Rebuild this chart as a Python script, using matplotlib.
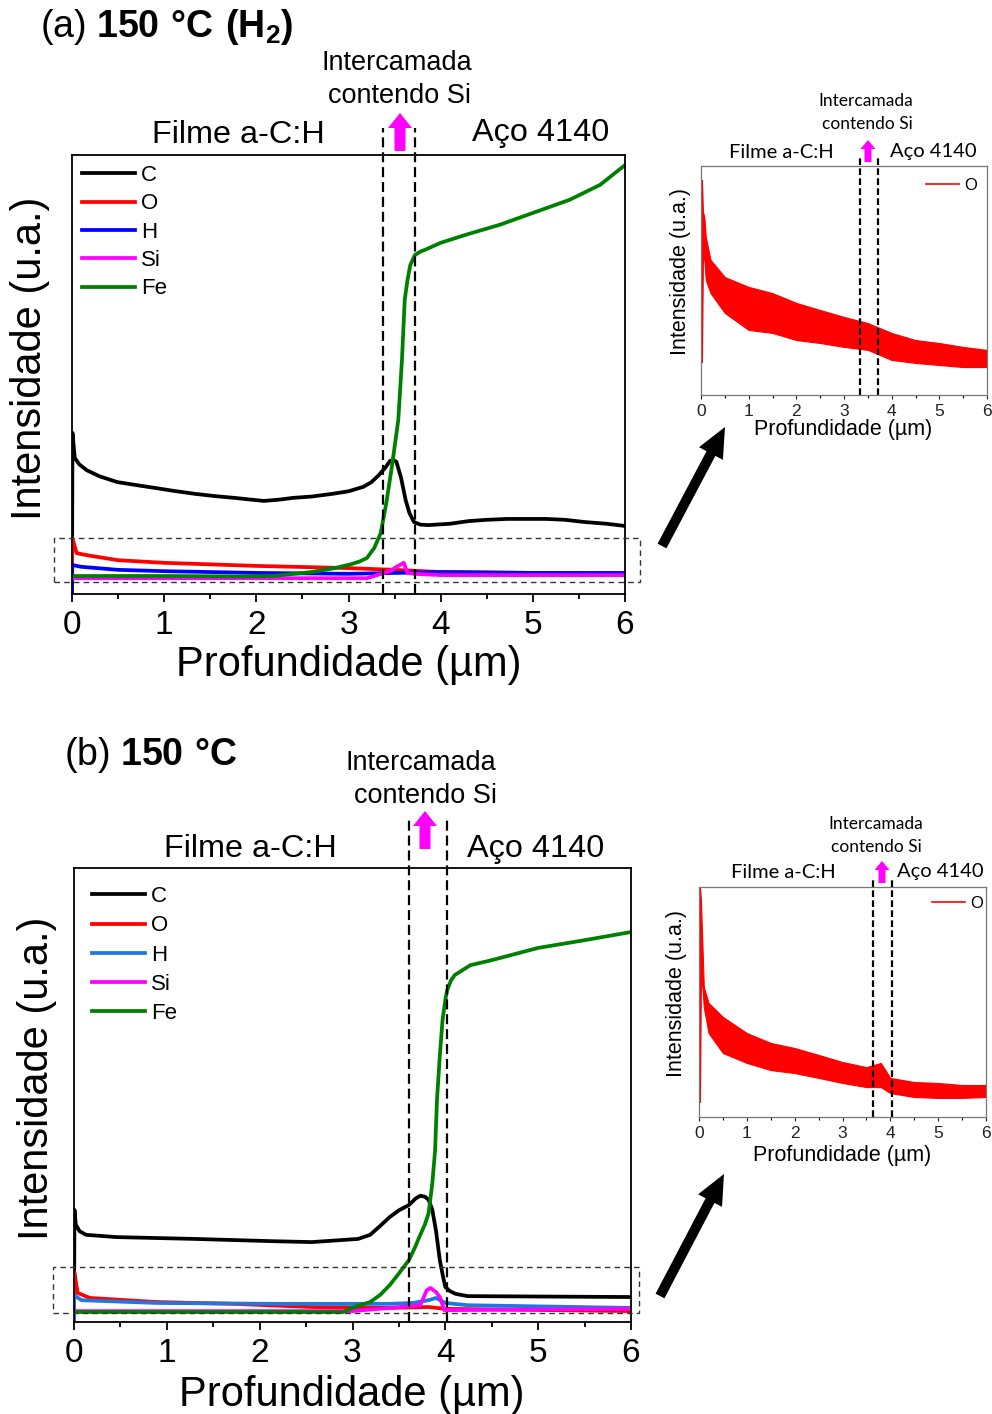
import matplotlib
matplotlib.use('Agg')
import matplotlib.pyplot as plt
from matplotlib.patches import FancyArrow, Rectangle
from matplotlib.ticker import MultipleLocator

plt.rcParams['font.family'] = ['Liberation Sans', 'DejaVu Sans']
plt.rcParams['mathtext.fontset'] = 'custom'
plt.rcParams['mathtext.rm'] = 'Liberation Sans'
plt.rcParams['mathtext.bf'] = 'Liberation Sans:bold'

# ---------------- data ----------------
# Panel (a): 150 °C (H2)
a_C_x = [0, 0.005, 0.03, 0.08, 0.16, 0.3, 0.49, 0.7, 0.92, 1.1, 1.34, 1.55, 1.76, 2.08, 2.25, 2.4, 2.6, 2.82, 3.0, 3.16, 3.25, 3.33, 3.4, 3.45, 3.49, 3.52, 3.57, 3.62, 3.66, 3.71, 3.78, 3.87, 4.1, 4.3, 4.5, 4.72, 5.14, 5.35, 5.56, 5.8, 6.0]
a_C_y = [0, 36.7, 31.0, 29.5, 28.2, 26.8, 25.5, 24.8, 24.1, 23.5, 22.8, 22.3, 21.9, 21.2, 21.5, 21.9, 22.2, 22.8, 23.4, 24.4, 25.5, 27.1, 28.8, 30.3, 30.5, 30.1, 26.5, 21.4, 18.5, 16.4, 15.8, 15.7, 16.0, 16.6, 16.9, 17.1, 17.1, 16.9, 16.4, 16.0, 15.5]
a_O_x = [0, 0.003, 0.05, 0.2, 0.5, 1, 2, 3, 3.5, 4, 5, 6]
a_O_y = [0, 12.8, 9.3, 8.7, 7.7, 7.1, 6.4, 5.9, 5.5, 5.0, 4.8, 4.6]
a_H_x = [0, 0.003, 0.1, 0.5, 1, 2, 3, 3.5, 4, 5, 6]
a_H_y = [0, 6.6, 6.2, 5.5, 5.2, 4.8, 4.6, 4.8, 5.0, 4.8, 4.8]
a_Si_x = [0, 3.2, 3.28, 3.45, 3.53, 3.6, 3.64, 3.71, 4.0, 6.0]
a_Si_y = [3.6, 3.6, 4.1, 5.2, 6.3, 7.1, 4.8, 4.6, 4.3, 4.3]
a_Fe_x = [0, 1.0, 1.8, 2.18, 2.6, 2.85, 3.03, 3.12, 3.2, 3.28, 3.35, 3.41, 3.47, 3.54, 3.58, 3.61, 3.64, 3.67, 3.72, 3.78, 3.83, 4.0, 4.3, 4.64, 5.0, 5.4, 5.73, 6.0]
a_Fe_y = [4.1, 4.1, 4.0, 4.1, 5.0, 5.9, 6.8, 7.4, 8.2, 10.5, 13.9, 20.7, 28.9, 39.6, 53.3, 67.0, 71.5, 74.9, 77.2, 78.0, 78.4, 80.0, 82.0, 84.1, 86.8, 89.8, 93.2, 97.7]
a_interfaces = [3.37, 3.72]

# Panel (b): 150 °C
b_C_x = [0, 0.005, 0.02, 0.06, 0.13, 0.46, 1.3, 2.14, 2.56, 3.06, 3.19, 3.3, 3.4, 3.5, 3.61, 3.68, 3.73, 3.78, 3.82, 3.86, 3.9, 3.94, 3.97, 4.0, 4.05, 4.11, 4.24, 6.0]
b_C_y = [0, 24.7, 21.4, 20.0, 19.2, 18.7, 18.3, 17.8, 17.6, 18.3, 19.2, 21.2, 23.1, 24.6, 25.8, 27.2, 27.8, 27.6, 26.9, 24.7, 20.0, 13.7, 10.5, 7.7, 6.8, 6.2, 5.7, 5.5]
b_O_x = [0, 0.003, 0.04, 0.17, 0.88, 1.72, 2.56, 3.4, 3.82, 4.0, 6.0]
b_O_y = [0, 11.0, 6.4, 5.3, 4.4, 4.0, 3.3, 3.1, 3.3, 2.9, 2.4]
b_H_x = [0, 0.003, 0.08, 0.88, 2.14, 3.4, 3.65, 3.82, 3.9, 4.0, 4.24, 6.0]
b_H_y = [0, 5.9, 4.8, 4.2, 4.0, 4.0, 4.2, 4.8, 5.3, 4.2, 3.7, 3.1]
b_Si_x = [0, 3.0, 3.4, 3.73, 3.8, 3.84, 3.9, 3.94, 3.99, 6.0]
b_Si_y = [2.4, 2.4, 3.1, 3.7, 7.0, 7.5, 6.6, 5.5, 2.6, 2.9]
b_Fe_x = [0, 2.9, 3.02, 3.19, 3.3, 3.4, 3.5, 3.61, 3.67, 3.73, 3.78, 3.82, 3.86, 3.89, 3.91, 3.94, 3.97, 4.0, 4.02, 4.06, 4.1, 4.27, 4.5, 5.0, 5.5, 6.0]
b_Fe_y = [2.2, 2.2, 3.3, 4.4, 6.0, 8.1, 10.7, 13.7, 16.3, 19.2, 21.5, 24.0, 30.6, 37.9, 48.9, 58.5, 66.5, 71.0, 73.1, 75.2, 76.4, 78.6, 79.7, 82.4, 84.1, 85.9]
b_interfaces = [3.61, 4.02]

# Insets: O signal, upper / lower envelope of the noisy trace
ins_a_x = [0.02, 0.04, 0.07, 0.1, 0.2, 0.5, 1.0, 1.5, 2.0, 2.5, 3.0, 3.5, 4.0, 4.5, 5.0, 5.5, 6.0]
ins_a_hi = [93.9, 80, 77.7, 69.0, 59.0, 51.5, 47.2, 44.5, 40.2, 37.1, 34.1, 31.4, 27.1, 24.0, 22.7, 21.0, 19.7]
ins_a_lo = [14.4, 60, 59.0, 50.2, 44.5, 35.8, 28.4, 27.1, 24.0, 22.7, 21.0, 19.7, 15.3, 14.0, 13.1, 12.2, 12.2]
ins_a_interfaces = [3.33, 3.72]

ins_b_x = [0.02, 0.04, 0.07, 0.1, 0.2, 0.5, 1.0, 1.5, 2.0, 2.5, 3.0, 3.5, 3.8, 4.0, 4.5, 5.0, 5.5, 6.0]
ins_b_hi = [100, 94.3, 75.7, 56.5, 49.6, 43.5, 36.5, 32.2, 30.0, 27.0, 23.9, 21.7, 23.5, 17.0, 15.2, 14.8, 13.9, 13.9]
ins_b_lo = [6.5, 60, 56.5, 47.8, 36.5, 27.8, 23.5, 20.4, 19.1, 17.0, 14.8, 13.0, 13.0, 10.4, 8.7, 8.3, 8.3, 8.7]
ins_b_interfaces = [3.63, 4.03]

elements = ['C', 'O', 'H', 'Si', 'Fe']
colors_a = ['#000000', '#ff0000', '#0000ff', '#ff00ff', '#008000']
colors_b = ['#000000', '#ff0000', '#1f78e0', '#ff00ff', '#008000']
xticks = [0, 1, 2, 3, 4, 5, 6]

# ---------------- figure ----------------
W, H = 992, 1414
fig = plt.figure(figsize=(W / 100, H / 100), dpi=100)


def add_ax(l, t, r, b):
    return fig.add_axes([l / W, 1 - b / H, (r - l) / W, (b - t) / H])


def ftext(x, y, s, **kw):
    kw.setdefault('ha', 'center')
    kw.setdefault('va', 'center')
    fig.text(x / W, 1 - y / H, s, **kw)


def arrow_px(x0, y0, x1, y1, w, hw, hl, color):
    a = FancyArrow(x0 / 100, (H - y0) / 100, (x1 - x0) / 100, -(y1 - y0) / 100,
                   width=w / 100, head_width=hw / 100, head_length=hl / 100,
                   length_includes_head=True, transform=fig.dpi_scale_trans,
                   color=color, lw=0)
    fig.add_artist(a)


def rect_px(x0, y0, x1, y1):
    r = Rectangle((x0 / 100, (H - y1) / 100), (x1 - x0) / 100, (y1 - y0) / 100,
                  transform=fig.dpi_scale_trans, fill=False, ls=(0, (4, 3)),
                  lw=1.0, ec='#333333')
    fig.add_artist(r)


def main_panel(ax, series, colors, interfaces, ymax_line, leg_anchor, lspace, xl, yl):
    for name, (xs, ys), c in zip(elements, series, colors):
        ax.plot(xs, ys, color=c, lw=2.7, label=name, solid_joinstyle='round')
    ax.set_xlim(0, 6)
    ax.set_ylim(0, 100)
    ax.set_yticks([])
    ax.set_xticks(xticks)
    ax.xaxis.set_minor_locator(MultipleLocator(0.5))
    ax.tick_params(axis='x', which='major', direction='out', length=6, width=1.3,
                   labelsize=24, pad=5.5)
    ax.tick_params(axis='x', which='minor', direction='out', length=3.5, width=1.3)
    for sp in ax.spines.values():
        sp.set_linewidth(1.3)
    for xi in interfaces:
        ax.axvline(xi, ymin=0, ymax=ymax_line, color='black', lw=1.6,
                   ls=(0, (4.5, 2.2)), clip_on=False)
    ax.legend(loc='upper left', bbox_to_anchor=leg_anchor, frameon=False, fontsize=16,
              handlelength=2.4, handletextpad=0.25, labelspacing=lspace,
              borderpad=0, borderaxespad=0)
    ax.set_xlabel('Profundidade (µm)', fontsize=30)
    ax.set_ylabel('Intensidade (u.a.)', fontsize=30)
    ax.xaxis.set_label_coords(*xl)
    ax.yaxis.set_label_coords(*yl)
    ax.xaxis.label.set_va('center')
    ax.yaxis.label.set_va('center')


def inset_panel(ax, xs, lo, hi, interfaces, leg_anchor, xl, yl):
    ax.fill_between(xs, lo, hi, color='#ff0000', lw=0.8, edgecolor='#ff0000')
    ax.plot([], [], color='#ff0000', lw=1.2, label='O')
    ax.set_xlim(0, 6)
    ax.set_ylim(0, 100)
    ax.set_yticks([])
    ax.set_xticks(xticks)
    ax.xaxis.set_minor_locator(MultipleLocator(0.5))
    ax.tick_params(axis='x', which='major', direction='out', length=3, width=0.8,
                   labelsize=12.5, pad=3.5, colors='#222222')
    ax.tick_params(axis='x', which='minor', direction='out', length=2, width=0.8)
    for sp in ax.spines.values():
        sp.set_linewidth(0.9)
        sp.set_color('#777777')
    for xi in interfaces:
        ax.axvline(xi, ymin=0, ymax=1.035, color='black', lw=1.6,
                   ls=(0, (3, 1.5)), clip_on=False)
    ax.legend(loc='upper right', bbox_to_anchor=leg_anchor, frameon=False, fontsize=12,
              handlelength=2.0, handletextpad=0.3, borderpad=0, borderaxespad=0)
    ax.set_xlabel('Profundidade (µm)', fontsize=15.5)
    ax.set_ylabel('Intensidade (u.a.)', fontsize=15.5)
    ax.xaxis.set_label_coords(*xl)
    ax.yaxis.set_label_coords(*yl)
    ax.xaxis.label.set_va('center')
    ax.yaxis.label.set_va('center')


# ---- panel (a) ----
axa = add_ax(72, 155, 625, 594)
main_panel(axa,
           [(a_C_x, a_C_y), (a_O_x, a_O_y), (a_H_x, a_H_y), (a_Si_x, a_Si_y), (a_Fe_x, a_Fe_y)],
           colors_a, a_interfaces, 1.061, (0.018, 0.977), 0.33, (0.501, -0.162), (-0.076, 0.538))
ftext(40, 27, r"(a) $\mathbf{150\ °C\ (H_2)}$", fontsize=27, ha='left')
ftext(397, 63, 'Intercamada', fontsize=19.5)
ftext(399, 96, 'contendo Si', fontsize=19.5)
ftext(238, 135, 'Filme a-C:H', fontsize=23.3)
ftext(541, 133, 'Aço 4140', fontsize=23.3)
arrow_px(400, 151, 400, 113, 11, 24, 15, '#ff00ff')
rect_px(54, 538, 640, 582)
arrow_px(662, 546, 725, 427, 10, 27, 30, '#000000')

# ---- inset (a) ----
ina = add_ax(701, 166, 987, 395)
inset_panel(ina, ins_a_x, ins_a_lo, ins_a_hi, ins_a_interfaces, (0.965, 0.948),
            (0.497, -0.150), (-0.073, 0.541))
ftext(866, 101, 'Intercamada', fontsize=12.5, family=['Lato', 'DejaVu Sans'])
ftext(867, 124, 'contendo Si', fontsize=12.5, family=['Lato', 'DejaVu Sans'])
ftext(781, 152, 'Filme a-C:H', fontsize=14.5, family=['Lato', 'DejaVu Sans'])
ftext(933, 151, 'Aço 4140', fontsize=14.5, family=['Lato', 'DejaVu Sans'])
arrow_px(868, 162, 868, 140, 7, 15, 9, '#ff00ff')

# ---- panel (b) ----
axb = add_ax(74, 868, 631, 1322)
main_panel(axb,
           [(b_C_x, b_C_y), (b_O_x, b_O_y), (b_H_x, b_H_y), (b_Si_x, b_Si_y), (b_Fe_x, b_Fe_y)],
           colors_b, b_interfaces, 1.112, (0.032, 0.960), 0.37, (0.499, -0.160), (-0.066, 0.537))
ftext(64, 755, r"(b) $\mathbf{150\ °C}$", fontsize=27, ha='left')
ftext(421, 763, 'Intercamada', fontsize=19.5)
ftext(425, 796, 'contendo Si', fontsize=19.5)
ftext(250, 849, 'Filme a-C:H', fontsize=23.3)
ftext(536, 849, 'Aço 4140', fontsize=23.3)
arrow_px(425, 849, 425, 811, 11, 24, 15, '#ff00ff')
rect_px(53, 1267, 639, 1313)
arrow_px(660, 1296, 724, 1174, 10, 27, 30, '#000000')

# ---- inset (b) ----
inb = add_ax(699, 887, 986, 1117)
inset_panel(inb, ins_b_x, ins_b_lo, ins_b_hi, ins_b_interfaces, (0.99, 0.961),
            (0.498, -0.168), (-0.080, 0.539))
ftext(876, 824, 'Intercamada', fontsize=12.5, family=['Lato', 'DejaVu Sans'])
ftext(876, 847, 'contendo Si', fontsize=12.5, family=['Lato', 'DejaVu Sans'])
ftext(783, 872, 'Filme a-C:H', fontsize=14.5, family=['Lato', 'DejaVu Sans'])
ftext(940, 872, 'Aço 4140', fontsize=14.5, family=['Lato', 'DejaVu Sans'])
arrow_px(882, 883, 882, 861, 7, 15, 9, '#ff00ff')

fig.savefig('out.png', dpi=100)
